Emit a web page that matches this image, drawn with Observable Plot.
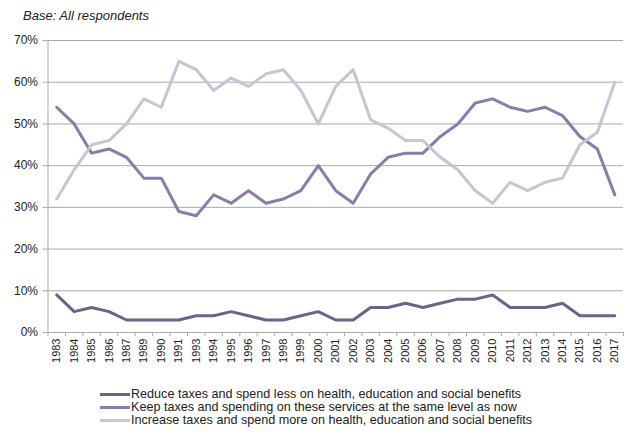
<!DOCTYPE html>
<html>
<head>
<meta charset="utf-8">
<script src="https://cdn.jsdelivr.net/npm/d3@7"></script>
<script src="https://cdn.jsdelivr.net/npm/@observablehq/plot@0.6"></script>
<style>
  html, body { margin: 0; padding: 0; background: #fff; }
  body { position: relative; width: 640px; height: 436px; font-family: "Liberation Sans", Arial, sans-serif; color: #222; overflow: hidden; }
  #title { position: absolute; left: 23px; top: 8px; font-size: 13px; font-style: italic; color: #222; }
  #chart { position: absolute; left: 0; top: 26px; }
  #chart svg { display: block; }
  #legend { position: absolute; left: 100px; top: 388px; font-size: 12.6px; line-height: 13px; }
  .row { white-space: nowrap; height: 13px; }
  .sw { display: inline-block; width: 30px; height: 3px; vertical-align: middle; margin-right: 1px; }
</style>
</head>
<body>
<div id="title">Base: All respondents</div>
<div id="chart"></div>
<div id="legend"></div>
<script>
const years = [1983, 1984, 1985, 1986, 1987, 1989, 1990, 1991, 1993, 1994, 1995, 1996, 1997, 1998, 1999, 2000, 2001, 2002, 2003, 2004, 2005, 2006, 2007, 2008, 2009, 2010, 2011, 2012, 2013, 2014, 2015, 2016, 2017];
const reduce   = [9, 5, 6, 5, 3, 3, 3, 3, 4, 4, 5, 4, 3, 3, 4, 5, 3, 3, 6, 6, 7, 6, 7, 8, 8, 9, 6, 6, 6, 7, 4, 4, 4];
const keep     = [54, 50, 43, 44, 42, 37, 37, 29, 28, 33, 31, 34, 31, 32, 34, 40, 34, 31, 38, 42, 43, 43, 47, 50, 55, 56, 54, 53, 54, 52, 47, 44, 33];
const increase = [32, 39, 45, 46, 50, 56, 54, 65, 63, 58, 61, 59, 62, 63, 58, 50, 59, 63, 51, 49, 46, 46, 42, 39, 34, 31, 36, 34, 36, 37, 45, 48, 60];
const seriesNames = [
  "Reduce taxes and spend less on health, education and social benefits",
  "Keep taxes and spending on these services at the same level as now",
  "Increase taxes and spend more on health, education and social benefits"
];
const seriesColors = ["#6d6289", "#8a7caa", "#c6c5d3"];
const yTicks = [0, 0.1, 0.2, 0.3, 0.4, 0.5, 0.6, 0.7];

const rows = [];
[reduce, keep, increase].forEach((arr, s) =>
  arr.forEach((v, i) => rows.push({i, year: years[i], value: v / 100, series: seriesNames[s]}))
);
const idx = years.map((_, i) => i);
const bounds = d3.range(years.length + 1).map(i => i - 0.5);
const axisColor = "#a9a9a9";

const chart = Plot.plot({
  width: 640,
  height: 350,
  marginTop: 14,
  marginBottom: 44,
  marginLeft: 47.5,
  marginRight: 17,
  style: {fontFamily: "Liberation Sans, Arial, sans-serif", fontSize: "12px", color: "#222", background: "#fff"},
  x: {type: "linear", domain: [-0.5, years.length - 0.5]},
  y: {domain: [0, 0.7]},
  color: {domain: seriesNames, range: seriesColors},
  marks: [
    Plot.gridY(yTicks, {stroke: axisColor, strokeOpacity: 1}),
    Plot.ruleX([-0.5], {stroke: axisColor}),
    Plot.axisY(yTicks, {tickFormat: d3.format(".0%"), tickSize: 5, tickPadding: 5, stroke: axisColor, fill: "#222", label: null, fontSize: 12}),
    Plot.axisX(bounds, {tickSize: 4, tickFormat: () => "", stroke: axisColor, label: null}),
    Plot.axisX(idx, {tickSize: 0, tickFormat: i => String(years[i]), tickRotate: -90, tickPadding: 6, fill: "#222", label: null, fontSize: 11}),
    Plot.ruleY([0], {stroke: axisColor}),
    Plot.line(rows, {x: "i", y: "value", z: "series", stroke: "series", strokeWidth: 3, strokeLinejoin: "round"})
  ]
});
document.getElementById("chart").appendChild(chart);

const legend = document.getElementById("legend");
seriesNames.forEach((name, s) => {
  const row = document.createElement("div");
  row.className = "row";
  const sw = document.createElement("span");
  sw.className = "sw";
  sw.style.background = seriesColors[s];
  row.appendChild(sw);
  row.appendChild(document.createTextNode(name));
  legend.appendChild(row);
});
</script>
</body>
</html>
